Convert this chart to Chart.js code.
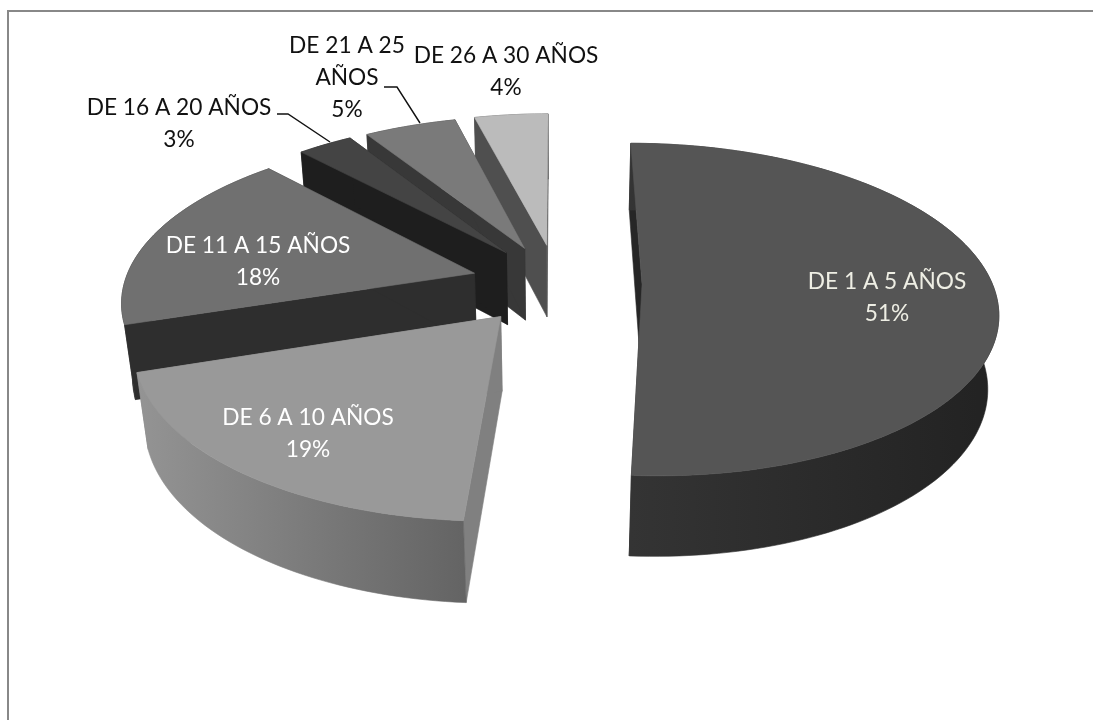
<!DOCTYPE html>
<html lang="es">
<head>
  <meta charset="UTF-8">
  <title>Antigüedad</title>
  <script src="https://cdn.jsdelivr.net/npm/chart.js"></script>
  <style>
    html, body { margin: 0; padding: 0; background: #fff; }
    #chartBox { width: 1093px; height: 720px; }
  </style>
</head>
<body>
  <div id="chartBox"><canvas id="pieChart"></canvas></div>
  <script>
    const categories = ['DE 1 A 5 AÑOS', 'DE 6 A 10 AÑOS', 'DE 11 A 15 AÑOS', 'DE 16 A 20 AÑOS', 'DE 21 A 25 AÑOS', 'DE 26 A 30 AÑOS'];
    const percents = [51, 19, 18, 3, 5, 4];
    const explode = [85, 89, 86, 85, 84, 85];

    const topColors = ['#555555', '#999999', '#707070', '#444444', '#7a7a7a', '#bbbbbb'];
    const edgeColors = ['#262626', '#808080', '#2e2e2e', '#1e1e1e', '#383838', '#4f4f4f'];
    const rimColors = [['#343434', '#222222'], ['#949494', '#646464'], ['#2e2e2e', '#2e2e2e'], ['#1e1e1e', '#1e1e1e'], ['#383838', '#383838'], ['#4f4f4f', '#4f4f4f']];

    // text lines and their centres for each slice
    const labelLines = [['DE 1 A 5 AÑOS', '51%'], ['DE 6 A 10 AÑOS', '19%'], ['DE 11 A 15 AÑOS', '18%'], ['DE 16 A 20 AÑOS', '3%'], ['DE 21 A 25', 'AÑOS', '5%'], ['DE 26 A 30 AÑOS', '4%']];
    const labelX = [887, 308, 258, 179, 347, 506];
    const labelY = [282, 418, 246, 108, 46, 56];
    const labelColors = ['#eeeee4', '#ffffff', '#ffffff', '#111111', '#111111', '#111111'];
    const lineGap = 32;

    // leader lines for the two small outer labels
    const leaders = [[[277, 114], [288, 114], [330, 142]], [[384, 87], [397, 87], [420, 123]]];

    // tilt and perspective of the disc
    const tilt = 0.463;
    const camera = 2300;
    const depth = 75;
    const sink = 0.025;

    function project(cx, cy, u, v, z) {
      const s = 1 / (1 - v / camera + z * sink);
      return [cx + u * s, cy + (v * tilt + z * depth) * s];
    }

    // outline of one slice on the top (z=0) or bottom (z=1) plane
    function rimPoints(arc, off, z) {
      const mid = (arc.startAngle + arc.endAngle) / 2;
      const ox = Math.cos(mid) * off;
      const oy = Math.sin(mid) * off;
      const pts = [];
      const steps = Math.max(8, Math.ceil((arc.endAngle - arc.startAngle) * 40));
      for (let i = 0; i <= steps; i++) {
        const a = arc.startAngle + (arc.endAngle - arc.startAngle) * i / steps;
        pts.push(project(arc.x, arc.y, ox + Math.cos(a) * arc.outerRadius, oy + Math.sin(a) * arc.outerRadius, z));
      }
      return { pts, apex: project(arc.x, arc.y, ox, oy, z) };
    }

    function fillPoly(ctx, pts, fill) {
      ctx.beginPath();
      pts.forEach((p, i) => i ? ctx.lineTo(p[0], p[1]) : ctx.moveTo(p[0], p[1]));
      ctx.closePath();
      ctx.fillStyle = fill;
      ctx.fill();
      ctx.strokeStyle = fill;
      ctx.lineWidth = 0.6;
      ctx.stroke();
    }

    const solidPie = {
      id: 'solidPie',
      beforeDraw(chart) {
        const ctx = chart.ctx;
        ctx.save();
        ctx.fillStyle = '#888888';
        ctx.fillRect(7, 10, 1086, 2);
        ctx.fillRect(7, 10, 2, 710);
        ctx.restore();
      },
      beforeDatasetsDraw(chart) {
        const ctx = chart.ctx;
        const arcs = chart.getDatasetMeta(0).data;
        ctx.save();
        // far slices first so the nearer ones paint over them
        [5, 4, 3, 2, 1, 0].forEach(i => {
          const arc = arcs[i];
          const off = arc.options.offset;
          const top = rimPoints(arc, off, 0);
          const low = rimPoints(arc, off, 1);
          const last = top.pts.length - 1;

          fillPoly(ctx, [top.apex, top.pts[0], low.pts[0], low.apex], edgeColors[i]);
          fillPoly(ctx, [top.apex, top.pts[last], low.pts[last], low.apex], edgeColors[i]);

          const xs = top.pts.map(p => p[0]);
          const grad = ctx.createLinearGradient(Math.min(...xs), 0, Math.max(...xs), 0);
          grad.addColorStop(0, rimColors[i][0]);
          grad.addColorStop(1, rimColors[i][1]);
          fillPoly(ctx, top.pts.concat(low.pts.slice().reverse()), grad);

          fillPoly(ctx, [top.apex].concat(top.pts), arc.options.backgroundColor);
        });
        ctx.restore();
        return false;
      },
      afterDraw(chart) {
        const ctx = chart.ctx;
        ctx.save();
        ctx.strokeStyle = '#111111';
        ctx.lineWidth = 1.4;
        leaders.forEach(line => {
          ctx.beginPath();
          line.forEach((p, i) => i ? ctx.lineTo(p[0], p[1]) : ctx.moveTo(p[0], p[1]));
          ctx.stroke();
        });
        ctx.font = '22.7px Lato';
        ctx.textAlign = 'center';
        ctx.textBaseline = 'middle';
        labelLines.forEach((lines, i) => {
          ctx.fillStyle = labelColors[i];
          lines.forEach((text, j) => ctx.fillText(text, labelX[i], labelY[i] + j * lineGap));
        });
        ctx.restore();
      }
    };

    new Chart(document.getElementById('pieChart'), {
      type: 'pie',
      data: {
        labels: categories,
        datasets: [{
          data: percents,
          backgroundColor: topColors,
          offset: explode,
          borderWidth: 0
        }]
      },
      options: {
        responsive: true,
        maintainAspectRatio: false,
        animation: false,
        radius: 350,
        layout: { padding: { left: 21, bottom: 154 } },
        plugins: { legend: { display: false }, tooltip: { enabled: false } }
      },
      plugins: [solidPie]
    });
  </script>
</body>
</html>
